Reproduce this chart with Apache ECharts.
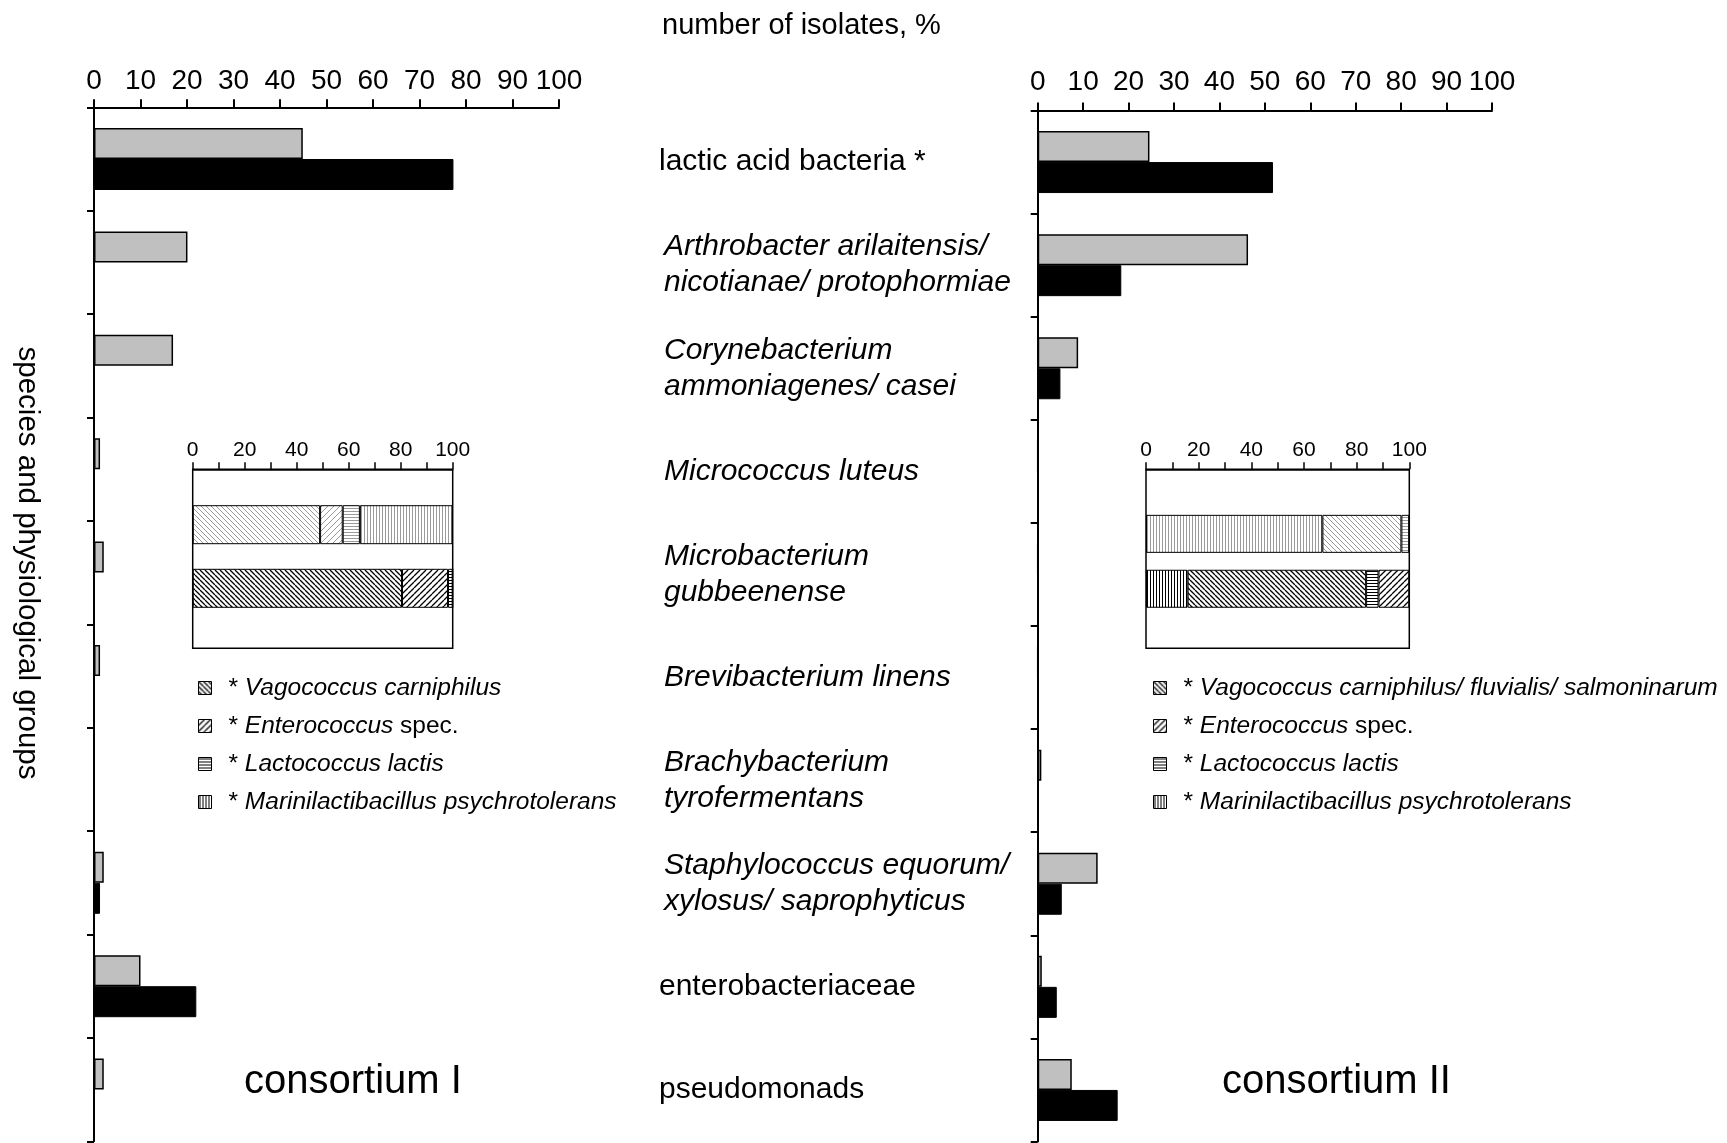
<!DOCTYPE html>
<html>
<head>
<meta charset="utf-8">
<script src="https://cdn.jsdelivr.net/npm/echarts@6/dist/echarts.min.js"></script>
<style>
html,body{margin:0;padding:0;background:#fff;}
#c{width:1727px;height:1143px;}
</style>
</head>
<body>
<div id="c"></div>
<script>
// ---------- data ----------
const categories = [
  'lactic acid bacteria *',
  'Arthrobacter arilaitensis/\nnicotianae/ protophormiae',
  'Corynebacterium\nammoniagenes/ casei',
  'Micrococcus luteus',
  'Microbacterium\ngubbeenense',
  'Brevibacterium linens',
  'Brachybacterium\ntyrofermentans',
  'Staphylococcus equorum/\nxylosus/ saprophyticus',
  'enterobacteriaceae',
  'pseudomonads'
];
const normalCats = ['lactic acid bacteria *', 'enterobacteriaceae', 'pseudomonads'];
const consI_gray  = [44.9, 20.1, 17.0, 1.3, 2.1, 1.3, 0, 2.1, 10.0, 2.1];
const consI_black = [77.3, 0, 0, 0, 0, 0, 0, 1.3, 22.0, 0];
const consII_gray  = [24.6, 46.3, 8.9, 0, 0, 0, 0.8, 13.2, 0.9, 7.5];
const consII_black = [51.8, 18.4, 5.0, 0, 0, 0, 0, 5.3, 4.2, 17.6];

// inset (lactic acid bacteria composition, %), [upper bar, lower bar]
const insetCats = ['upper', 'lower'];
const insetI_vago   = [49, 80.5];
const insetI_entero = [8.7, 17.7];
const insetI_lacto  = [6.6, 1.8];
const insetI_marini = [35.7, 0];
const insetII_marini = [67, 15.8];
const insetII_vago   = [30, 67.8];
const insetII_lacto  = [3, 4.7];
const insetII_entero = [0, 11.7];

const nameVagoI = 'Vagococcus carniphilus';
const nameVagoII = 'Vagococcus carniphilus/ fluvialis/ salmoninarum';
const nameEntero = 'Enterococcus spec.';
const nameLacto = 'Lactococcus lactis';
const nameMarini = 'Marinilactibacillus psychrotolerans';

// ---------- patterns ----------
function hatch(kind, color, size, lw) {
  const c = document.createElement('canvas');
  c.width = size; c.height = size;
  const g = c.getContext('2d');
  g.fillStyle = '#fff'; g.fillRect(0, 0, size, size);
  g.strokeStyle = color; g.lineWidth = lw; g.beginPath();
  if (kind === 'h') { g.moveTo(0, size / 2); g.lineTo(size, size / 2); }
  else if (kind === 'v') { g.moveTo(size / 2, 0); g.lineTo(size / 2, size); }
  else if (kind === 'b') { for (let k = -1; k <= 1; k++) { g.moveTo(k * size, 0); g.lineTo(k * size + size, size); } }
  else if (kind === 'f') { for (let k = -1; k <= 1; k++) { g.moveTo(k * size, size); g.lineTo(k * size + size, 0); } }
  g.stroke();
  return { image: c, repeat: 'repeat' };
}
const P = {
  vago:   { dark: hatch('b', '#000', 5, 1.3), light: hatch('b', '#9a9a9a', 5, 1) },
  entero: { dark: hatch('f', '#000', 6, 1.3), light: hatch('f', '#9a9a9a', 6, 1) },
  lacto:  { dark: hatch('h', '#000', 3, 1),   light: hatch('h', '#9a9a9a', 3, 1) },
  marini: { dark: hatch('v', '#000', 3, 1),   light: hatch('v', '#9a9a9a', 3, 1) }
};

const FONT = '"Liberation Sans", Arial, Helvetica, sans-serif';

function insetData(arr, pat) {
  return arr.map((v, i) => i === 0 ? { value: v, itemStyle: { color: pat.light } } : v);
}
function insetSeries(name, arr, pat, gi, stack, bw) {
  return {
    name: name, type: 'bar', stack: stack, xAxisIndex: gi, yAxisIndex: gi,
    barWidth: bw, data: insetData(arr, pat),
    itemStyle: { color: pat.dark, borderColor: '#000', borderWidth: 1 },
    z: 5
  };
}

// ---------- layout ----------
const mainL = { left: 94, top: 107.3, width: 465, height: 1034 };
const mainR = { left: 1037.7, top: 110.5, width: 454.3, height: 1031 };
const insL = { left: 192.7, width: 260, frameTop: 469.3, frameH: 179, top: 492.9, height: 127.2 };
const insR = { left: 1146, width: 263.3, frameTop: 469.3, frameH: 179, top: 506.4, height: 109.8 };

const axisLineStyle = { color: '#000', width: 2 };

function mainX(gi, margin) {
  return {
    gridIndex: gi, type: 'value', position: 'top', min: 0, max: 100, interval: 10,
    axisLine: { show: true, lineStyle: axisLineStyle },
    axisTick: { show: true, length: 8, lineStyle: axisLineStyle },
    axisLabel: { fontSize: 28, color: '#000', fontFamily: FONT, margin: margin },
    splitLine: { show: false }
  };
}
function insetX(gi, offset) {
  return {
    gridIndex: gi, type: 'value', position: 'top', min: 0, max: 100, interval: 10, offset: offset,
    axisLine: { show: true, lineStyle: { color: '#000', width: 1.5 } },
    axisTick: { show: true, length: 7, lineStyle: { color: '#000', width: 1.5 } },
    axisLabel: { fontSize: 21, color: '#000', fontFamily: FONT, margin: 9,
      formatter: v => (v % 20 === 0 ? String(v) : '') },
    splitLine: { show: false }
  };
}

const catRich = {
  n: { fontSize: 30, fontFamily: FONT, color: '#000', lineHeight: 36 },
  i: { fontSize: 30, fontFamily: FONT, color: '#000', fontStyle: 'italic', lineHeight: 36, padding: [0, 0, 0, 5] }
};
function catFormatter(v) {
  const tag = normalCats.indexOf(v) >= 0 ? 'n' : 'i';
  return v.split('\n').map(s => '{' + tag + '|' + s + '}').join('\n');
}

const legendRich = {
  i: { fontStyle: 'italic', fontSize: 24.5, fontFamily: FONT, color: '#000' },
  n: { fontSize: 24.5, fontFamily: FONT, color: '#000' }
};
function legendFmt(name) {
  if (name === nameEntero) return '* {i|Enterococcus}{n| spec.}';
  return '* {i|' + name + '}';
}
function legend(left, names) {
  return {
    data: names, left: left, top: 670, orient: 'vertical', icon: 'rect',
    itemWidth: 13, itemHeight: 13, itemGap: 12,
    itemStyle: { borderColor: '#000', borderWidth: 1 },
    formatter: legendFmt, selectedMode: false,
    textStyle: { fontSize: 24.5, fontFamily: FONT, color: '#000', lineHeight: 26, padding: [0, 0, 0, 12], rich: legendRich }
  };
}

const option = {
  animation: false,
  backgroundColor: '#fff',
  title: {
    text: 'number of isolates, %', left: 657, top: 6,
    textStyle: { fontSize: 29, fontWeight: 'normal', fontFamily: FONT, color: '#000' }
  },
  legend: [
    legend(193, [nameVagoI, nameEntero, nameLacto, nameMarini]),
    legend(1148, [nameVagoII, nameEntero, nameLacto, nameMarini])
  ],
  grid: [
    Object.assign({ containLabel: false }, mainL),
    Object.assign({ containLabel: false }, mainR),
    { left: insL.left, width: insL.width, top: insL.top, height: insL.height },
    { left: insR.left, width: insR.width, top: insR.top, height: insR.height }
  ],
  xAxis: [ mainX(0, 12), mainX(1, 14), insetX(2, insL.top - insL.frameTop), insetX(3, insR.top - insR.frameTop) ],
  yAxis: [
    { gridIndex: 0, type: 'category', data: categories, inverse: true,
      axisLine: { show: true, lineStyle: axisLineStyle },
      axisTick: { show: true, length: 7, lineStyle: axisLineStyle },
      axisLabel: { show: false } },
    { gridIndex: 1, type: 'category', data: categories, inverse: true,
      axisLine: { show: true, lineStyle: axisLineStyle },
      axisTick: { show: true, length: 7, lineStyle: axisLineStyle },
      axisLabel: { show: true, align: 'left', margin: mainR.left - 659, formatter: catFormatter, rich: catRich } },
    { gridIndex: 2, type: 'category', data: insetCats, inverse: true,
      axisLine: { show: false }, axisTick: { show: false }, axisLabel: { show: false } },
    { gridIndex: 3, type: 'category', data: insetCats, inverse: true,
      axisLine: { show: false }, axisTick: { show: false }, axisLabel: { show: false } }
  ],
  series: [
    { name: 'consortium I (grey)', type: 'bar', xAxisIndex: 0, yAxisIndex: 0, data: consI_gray,
      barWidth: 31, barGap: '0%', itemStyle: { color: '#c0c0c0', borderColor: '#000', borderWidth: 1.5 } },
    { name: 'consortium I (black)', type: 'bar', xAxisIndex: 0, yAxisIndex: 0, data: consI_black,
      barWidth: 31, barGap: '0%', itemStyle: { color: '#000', borderColor: '#000', borderWidth: 1 } },
    { name: 'consortium II (grey)', type: 'bar', xAxisIndex: 1, yAxisIndex: 1, data: consII_gray,
      barWidth: 31, barGap: '0%', itemStyle: { color: '#c0c0c0', borderColor: '#000', borderWidth: 1.5 } },
    { name: 'consortium II (black)', type: 'bar', xAxisIndex: 1, yAxisIndex: 1, data: consII_black,
      barWidth: 31, barGap: '0%', itemStyle: { color: '#000', borderColor: '#000', borderWidth: 1 } },

    insetSeries(nameVagoI, insetI_vago, P.vago, 2, 'L', 39),
    insetSeries(nameEntero, insetI_entero, P.entero, 2, 'L', 39),
    insetSeries(nameLacto, insetI_lacto, P.lacto, 2, 'L', 39),
    insetSeries(nameMarini, insetI_marini, P.marini, 2, 'L', 39),

    insetSeries(nameMarini, insetII_marini, P.marini, 3, 'R', 38),
    insetSeries(nameVagoII, insetII_vago, P.vago, 3, 'R', 38),
    insetSeries(nameLacto, insetII_lacto, P.lacto, 3, 'R', 38),
    insetSeries(nameEntero, insetII_entero, P.entero, 3, 'R', 38)
  ],
  graphic: [
    { type: 'rect', shape: { x: insL.left, y: insL.frameTop, width: insL.width, height: insL.frameH },
      style: { fill: null, stroke: '#000', lineWidth: 1.5 }, z: 10 },
    { type: 'rect', shape: { x: insR.left, y: insR.frameTop, width: insR.width, height: insR.frameH },
      style: { fill: null, stroke: '#000', lineWidth: 1.5 }, z: 10 },
    { type: 'text', x: 27.5, y: 563, rotation: -Math.PI / 2,
      style: { text: 'species and physiological groups', fontSize: 29.5, fontFamily: FONT, fill: '#000',
        textAlign: 'center', textVerticalAlign: 'middle' } },
    { type: 'text', x: 244, y: 1082,
      style: { text: 'consortium I', fontSize: 40, fontFamily: FONT, fill: '#000',
        textAlign: 'left', textVerticalAlign: 'middle' } },
    { type: 'text', x: 1222, y: 1082,
      style: { text: 'consortium II', fontSize: 40, fontFamily: FONT, fill: '#000',
        textAlign: 'left', textVerticalAlign: 'middle' } }
  ]
};

const chart = echarts.init(document.getElementById('c'), null, { renderer: 'canvas' });
chart.setOption(option);
</script>
</body>
</html>
